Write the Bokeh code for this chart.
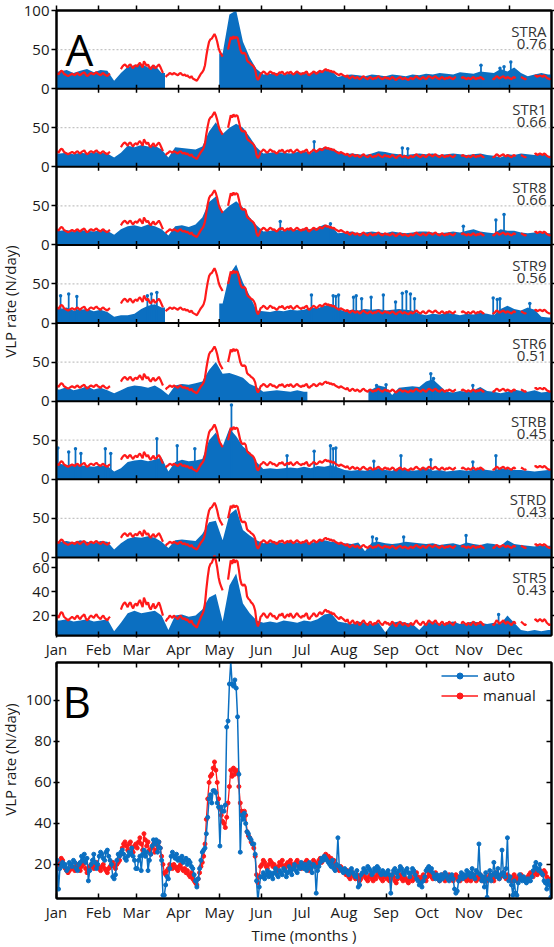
import math
import numpy as np
from bokeh.plotting import figure
from bokeh.models import Range1d, LinearAxis, FixedTicker, Span, Label, Legend, LegendItem
from bokeh.layouts import column, row
from bokeh.embed import file_html
from bokeh.resources import INLINE

nan = float("nan")
FONT = "Open Sans"
BLUE = "#0b6fc1"
RED = "#ff1a1a"

# ---------------- data ----------------
month_starts = [0, 31, 59, 90, 120, 151, 181, 212, 243, 273, 304, 334]
month_labels = ["Jan", "Feb", "Mar", "Apr", "May", "Jun", "Jul", "Aug", "Sep", "Oct", "Nov", "Dec"]

# daily manual VLP rate (N/day), Jan 1 .. Dec 31
manual = [
    20, 18, 21, 23, 22, 19, 18, 17, 16, 17, 18, 19, 18, 17, 19, 20, 18, 17, 19, 20, 21, 18, 16, 17, 19, 20, 19, 18, 20, 21, 19,
    18, 17, 19, 20, 18, 17, 16, 18, 19, 20, 21, 19, 18, 20, 21, 22, 25, 28, 30, 31, 29, 27, 30, 31, 28, 26, 29, 30,
    28, 31, 33, 30, 27, 35, 32, 29, 31, 27, 25, 28, 30, 26, 27, 29, 31, 28, 24, 20, 16, 15, 17, 18, 20, 19, 18, 20, 19, 18, 17,
    19, 20, 18, 17, 18, 16, 17, 15, 14, 16, 13, 12, 11, 10, 13, 16, 19, 21, 24, 30, 42, 52, 60, 63, 64, 67, 70, 66, 60, 52,
    47, 44, 41, 40, 38, 43, 50, 58, 66, 63, 67, 64, 66, 65, 58, 50, 46, 45, 46, 44, 36, 34, 33, 31, 30, 28, 24, 15, 11, 14, 19,
    20, 22, 21, 19, 18, 20, 22, 21, 19, 20, 18, 17, 19, 21, 20, 22, 19, 18, 20, 21, 19, 22, 20, 18, 19, 21, 22, 20, 19, 18,
    20, 19, 21, 22, 18, 17, 19, 20, 22, 21, 19, 20, 22, 23, 21, 22, 24, 25, 23, 24, 22, 23, 21, 22, 20, 19, 18, 17, 19, 18, 17,
    16, 15, 17, 14, 13, 15, 16, 14, 13, 15, 14, 12, 13, 15, 16, 14, 13, 12, 14, 15, 13, 12, 14, 13, 15, 16, 14, 13, 12, 14, 15,
    13, 14, 12, 13, 15, 14, 12, 11, 13, 14, 15, 13, 12, 14, 13, 12, 11, 13, 14, 12, 13, 15, 16, 14, 13, 12, 14, 15, 13, 12,
    14, 16, 15, 14, 13, 15, 16, 14, 13, 12, 14, 15, 13, 12, 14, 13, 15, 14, 13, 12, 14, 15, 13, 14, 12, 13, 15, 14, 13, 12, 14,
    13, 12, 14, 15, 13, 12, 14, 13, 15, 14, 12, 13, 14, 12, 13, 15, 14, 13, 12, 14, 16, 15, 13, 14, 15, 16, 14, 13, 15, 14,
    13, 12, 14, 15, 13, 12, 14, 13, 15, 14, 13, 12, 13, 14, 15, 16, 15, 14, 16, 17, 15, 16, 17, 16, 15, 17, 16, 14, 13, 12, 13,
]

# daily automatic VLP rate (N/day)
auto = [
    22, 8, 18, 20, 21, 19, 20, 17, 18, 21, 20, 19, 22, 21, 18, 17, 20, 21, 24, 22, 25, 21, 23, 12, 17, 20, 22, 25, 21, 18, 20,
    24, 26, 25, 23, 22, 26, 27, 24, 22, 20, 14, 13, 15, 22, 25, 24, 26, 27, 25, 23, 22, 24, 26, 25, 28, 24, 22, 18,
    18, 22, 24, 17, 25, 27, 24, 26, 17, 22, 25, 29, 32, 30, 32, 26, 31, 28, 22, 5, 5, 10, 14, 13, 18, 24, 26, 24, 23, 25, 22,
    23, 22, 24, 21, 22, 23, 20, 22, 21, 19, 18, 15, 12, 9, 13, 18, 22, 26, 27, 28, 35, 43, 52, 54, 50, 56, 56, 55, 50, 48,
    29, 48, 46, 46, 49, 87, 90, 108, 119, 108, 107, 110, 106, 92, 64, 26, 44, 42, 45, 40, 36, 35, 33, 32, 30, 30, 25, 12, 2, 9, 14,
    14, 16, 13, 15, 17, 14, 16, 15, 13, 16, 18, 15, 14, 17, 16, 15, 18, 17, 14, 16, 19, 17, 15, 18, 20, 17, 16, 19, 18, 21,
    19, 18, 20, 17, 19, 21, 18, 16, 20, 19, 6, 17, 19, 21, 23, 22, 24, 23, 22, 21, 20, 19, 22, 18, 17, 20, 33, 19, 18, 17, 16,
    18, 17, 16, 15, 17, 18, 16, 15, 14, 17, 9, 10, 15, 16, 18, 17, 16, 19, 18, 17, 15, 16, 18, 17, 19, 18, 16, 15, 17, 16, 15,
    16, 17, 15, 6, 15, 17, 18, 16, 14, 17, 19, 18, 16, 15, 17, 18, 16, 14, 16, 18, 17, 15, 13, 12, 10, 11, 9, 12, 14, 17,
    18, 19, 17, 18, 16, 14, 13, 15, 14, 12, 15, 13, 14, 16, 15, 13, 12, 14, 15, 13, 8, 6, 7, 12, 14, 16, 13, 15, 14, 17, 15,
    16, 14, 18, 15, 13, 17, 16, 30, 15, 12, 14, 9, 16, 4, 13, 17, 12, 15, 21, 16, 14, 18, 13, 15, 27, 16, 14, 18, 33, 12,
    14, 10, 5, 12, 6, 5, 11, 15, 13, 12, 14, 12, 11, 13, 12, 12, 14, 17, 19, 21, 18, 17, 20, 16, 15, 12, 11, 8, 12, 10, 4,
]

# days (inclusive ranges) where the manual curve in panel A is interrupted
manual_gaps_a = [(40, 46), (79, 79), (123, 125), (295, 297), (316, 320), (339, 341), (347, 351)]

# per-station automatic rates: dense upper envelope in 5-day bins, plus isolated high values
stations = ["STRA", "STR1", "STR8", "STR9", "STR6", "STRB", "STRD", "STR5"]
correlations = [0.76, 0.66, 0.66, 0.56, 0.51, 0.45, 0.43, 0.43]

stra_fill = [22, 24, 20, 23, 25, 21, 24, 23, 10, 20, 28, 30, 32, 27, 30, 20,
             nan, nan, nan, nan, nan, nan, nan, nan, 45, 95, 100, 60, 40, 25,
             18, 19, 20, 18, 19, 21, 20, 19, 22, 24, 23, 15,
             17, 18, 17, 16, 18, 17, 16, 18, 17, 16, 18, 17,
             19, 18, 20, 19, 18, 21, 20, 19, 22, 21, 20, 25, 22, 27, 20, 16, 18, 20, 18]
str1_fill = [17, 18, 16, 18, 17, 19, 18, 17, 12, 18, 27, 25, 28, 26, 27, 22, 12,
             25, 24, 23, 22, 26, 45, 57, 42, 50, 55, 50, 38, 25,
             17, 18, 19, 18, 17, 19, 20, 18, 22, 25, 24, 20,
             16, 17, 16, 15, 17, 20, 19, 17, 16, 15, 16, 17,
             16, 17, 15, 16, 17, 16, 15, 16, 17, 15, 14, 12, 16, 15, 17, 16, 15, 16, 14]
str8_fill = [18, 19, 17, 19, 18, 17, 19, 18, 13, 20, 24, 25, 23, 26, 24, 20, 12,
             24, 25, 23, 26, 35, 55, 62, 42, 50, 56, 48, 35, 25,
             17, 18, 19, 18, 20, 19, 21, 20, 22, 26, 24, 15,
             16, 17, 15, 16, 17, 16, 15, 17, 16, 15, 16, 17,
             17, 16, 15, 16, 17, 16, 18, 20, 17, 16, 15, 20, 18, 18, 16, 15, 16, 17, 15]
str9_fill = [18, 20, 16, 17, 18, 15, 17, 14, 8, 10, 10, 12, 18, 22, 24, 20,
             nan, nan, nan, nan, nan, nan, nan, nan, 25, 62, 75, 52, 35, 16,
             15, 14, 16, 15, 17, 16, 17, 20, 19, 22, 24, 18,
             15, 17, 16, 18, 17, 18, 16, 17, 18, 17, 16, 12,
             10, 12, 11, 13, 12, 10, 12, 11, 13, 12, 10, 18, 22, 18, 16, 20, 17, 8, 7]
str6_fill = [15, 18, 14, 16, 19, 15, 17, 14, 10, 14, 18, 20, 19, 17, 20, 15, 8,
             20, 22, 21, 23, 25, 40, 50, 35, 36, 33, 30, 22, 18,
             12, 13, 14, 13, 12, 14, 12, nan, nan, nan, nan, nan,
             nan, nan, nan, nan, 15, 20, 18, 8, 17, 18, 19, 18,
             25, 28, 20, 12, 11, 13, 12, 14, 18, 13, 12, 10, 12, 15, 13, 12, 14, 11, 12]
strb_fill = [20, 18, 19, 18, 17, 16, 18, 17, 10, 14, 22, 24, 25, 23, 25, 28, 10,
             22, 25, 23, 24, 26, 50, 60, 42, 65, 55, 42, 35, 22,
             13, 14, 13, 14, 15, 14, 16, 14, 17, 16, 18, 15,
             12, 11, 12, 11, 13, 14, 12, 11, 15, 13, 11, 12,
             15, 11, 12, 10, 11, 12, 11, 12, 13, 12, 11, 14, 13, 12, 12, 11, 10, 11, 12]
strd_fill = [20, 21, 19, 22, 20, 18, 21, 20, 10, 18, 24, 26, 25, 27, 25, 20, 12,
             22, 23, 22, 21, 30, 45, 47, 22, 55, 62, 35, 28, 22,
             18, 19, 20, 18, 21, 19, 20, 18, 21, 22, 20, 19,
             18, 17, 19, 8, 19, 20, 18, 17, 18, 20, 19, 18,
             17, 18, 16, 17, 18, 16, 19, 17, 16, 18, 17, 15, 22, 17, 16, 15, 14, 16, 15]
str5_fill = [16, 17, 15, 16, 17, 15, 16, 17, 7, 14, 22, 24, 22, 23, 24, 20, 8,
             20, 21, 19, 20, 25, 35, 38, 15, 45, 55, 30, 22, 16,
             14, 15, 14, 16, 15, 14, 16, 15, 17, 21, 22, 15,
             14, 13, 15, 14, 13, 14, 6, 14, 15, 14, 13, 8,
             14, 15, 13, 14, 15, 13, 14, 15, 14, 13, 14, 13, 20, 14, 8, 7, 8, 7, 8]

stra_spike_day = [313, 327, 330, 335]
stra_spike_val = [30, 26, 28, 34]
str1_spike_day = [190, 255, 259]
str1_spike_val = [32, 24, 23]
str8_spike_day = [165, 202, 300, 324, 330]
str8_spike_val = [30, 27, 24, 32, 39]
str9_spike_day = [3, 9, 15, 67, 70, 74, 188, 204, 206, 208, 219, 221, 225, 232, 241, 250, 255, 258, 261, 264, 322, 325, 327, 349]
str9_spike_val = [35, 37, 34, 35, 37, 39, 36, 35, 34, 36, 33, 35, 31, 33, 36, 27, 38, 40, 37, 31, 32, 30, 31, 25]
str6_spike_day = [236, 243, 276, 278, 307]
str6_spike_val = [20, 21, 35, 29, 20]
strb_spike_day = [1, 9, 14, 18, 36, 40, 74, 89, 102, 129, 170, 190, 202, 204, 206, 234, 254, 276, 307, 324]
strb_spike_val = [40, 35, 39, 33, 39, 33, 52, 43, 39, 95, 30, 36, 43, 39, 40, 23, 30, 25, 22, 30]
strd_spike_day = [233, 236, 256, 302]
strd_spike_val = [26, 24, 26, 28]
str5_spike_day = [326]
str5_spike_val = [21]

panel_limits = [(0, 100)] * 7 + [(3.4, 68.5)]
panel_yticks = [[0, 50, 100]] + [[0, 50]] * 6 + [[20, 40, 60]]
b_yticks = [20, 40, 60, 80, 100]

fills = [stra_fill, str1_fill, str8_fill, str9_fill, str6_fill, strb_fill, strd_fill, str5_fill]
spikes = [(stra_spike_day, stra_spike_val), (str1_spike_day, str1_spike_val), (str8_spike_day, str8_spike_val),
          (str9_spike_day, str9_spike_val), (str6_spike_day, str6_spike_val), (strb_spike_day, strb_spike_val),
          (strd_spike_day, strd_spike_val), (str5_spike_day, str5_spike_val)]

BIN = 5
day_x = [d + 0.5 for d in range(365)]
bin_x = [BIN * i + BIN / 2 for i in range(len(stra_fill))]

manual_a = list(manual)
for a, b in manual_gaps_a:
    for d in range(a, b + 1):
        manual_a[d] = nan


def runs(xs, ys):
    out, cx, cy = [], [], []
    for x, y in zip(xs, ys):
        if y is None or math.isnan(y):
            if cx:
                out.append((cx, cy))
            cx, cy = [], []
        else:
            cx.append(x)
            cy.append(y)
    if cx:
        out.append((cx, cy))
    return out


def style_axis(ax, tin, tout, labels=True, size="15px", standoff=3):
    ax.axis_line_width = 2
    ax.axis_line_color = "black"
    ax.major_tick_in = tin
    ax.major_tick_out = tout
    ax.major_tick_line_width = 1.5
    ax.major_tick_line_color = "black"
    ax.minor_tick_line_color = None
    ax.major_label_text_font = FONT
    if labels:
        ax.major_label_text_color = "#1a1a1a"
        ax.major_label_text_font_size = size
        ax.major_label_standoff = standoff
    else:
        ax.major_label_text_color = None
        ax.major_label_text_font_size = "0px"
        ax.major_label_standoff = 0


FW = 495
FH_A = 625
NP = 8
LEFT = 33
STRIP = 20
TOP_A, BOT_A, TOP_B, BOT_B = 10, 26, 1, 49

# ---------------- panel A ----------------
pA = figure(frame_width=FW, frame_height=FH_A, x_range=Range1d(0, 365), y_range=Range1d(0, NP),
            min_border_left=LEFT, min_border_right=6, min_border_top=TOP_A, min_border_bottom=BOT_A,
            x_axis_location=None, y_axis_location=None,
            output_backend="svg", toolbar_location=None)
pA.grid.visible = False
pA.outline_line_color = "black"
pA.outline_line_width = 2
pA.outline_line_alpha = 1
pA.background_fill_color = "white"
pA.border_fill_color = "white"

extra = {}
for k, (lo, hi) in enumerate(panel_limits):
    h = hi - lo
    extra[f"p{k}"] = Range1d(lo - (NP - 1 - k) * h, hi + k * h)
pA.extra_y_ranges = extra

for k in range(NP):
    rn = f"p{k}"
    if k < NP - 1:
        pA.add_layout(Span(location=50, dimension="width", y_range_name=rn, line_color="#c4c4c4",
                           line_width=1.3, line_dash="2 2", level="underlay"))
    for xs, ys in runs(bin_x, fills[k]):
        xs2 = [xs[0] - BIN / 2] + xs + [xs[-1] + BIN / 2]
        ys2 = [ys[0]] + ys + [ys[-1]]
        pA.varea(x=xs2, y1=[0] * len(xs2), y2=ys2, fill_color=BLUE, fill_alpha=1, y_range_name=rn)
    sd, sv = spikes[k]
    pA.vbar(x=sd, top=sv, bottom=0, width=1.3, fill_color=BLUE, line_color=None, y_range_name=rn)
    pA.scatter(x=sd, y=sv, size=3.5, fill_color=BLUE, line_color=None, y_range_name=rn)
    pA.line(x=day_x, y=manual_a, line_color=RED, line_width=2.2, y_range_name=rn)

for b in range(1, NP):
    pA.add_layout(Span(location=b, dimension="width", line_color="black", line_width=2))

tx, ty = [], []
for b in range(1, NP):
    for m in month_starts[1:]:
        tx.append(m)
        ty.append(b)
pA.scatter(x=tx, y=ty, marker="dash", angle=math.pi / 2, size=8, line_color="black", line_width=1.5)

left_ticks, left_over = [], {}
for k, (lo, hi) in enumerate(panel_limits):
    for v in panel_yticks[k]:
        pos = (NP - 1 - k) + (v - lo) / (hi - lo)
        left_ticks.append(pos)
        left_over[pos] = str(v)

axl = LinearAxis(ticker=FixedTicker(ticks=left_ticks), major_label_overrides=left_over)
style_axis(axl, 0, 5, True, "15px", 2)
pA.add_layout(axl, "left")
axr = LinearAxis(ticker=FixedTicker(ticks=left_ticks))
style_axis(axr, 0, 5, False)
pA.add_layout(axr, "right")
axt = LinearAxis(ticker=FixedTicker(ticks=month_starts))
style_axis(axt, 0, 5, False)
pA.add_layout(axt, "above")
axb = LinearAxis(ticker=FixedTicker(ticks=month_starts),
                 major_label_overrides={m: l for m, l in zip(month_starts, month_labels)})
style_axis(axb, 4, 2, True, "15px", 1)
pA.add_layout(axb, "below")

for k in range(NP):
    top = (NP - k) * FH_A / NP
    pA.add_layout(Label(x=FW - 5, y=top - 20, x_units="screen", y_units="screen", text=stations[k],
                        text_align="right", text_baseline="alphabetic", text_font=FONT,
                        text_font_size="15px", text_color="#333333"))
    pA.add_layout(Label(x=FW - 5, y=top - 33, x_units="screen", y_units="screen",
                        text=f"{correlations[k]:.2f}", text_align="right", text_baseline="alphabetic",
                        text_font=FONT, text_font_size="15px", text_color="#333333"))

pA.add_layout(Label(x=9, y=FH_A - 38, x_units="screen", y_units="screen", text="A",
                    text_font=FONT, text_font_size="44px", text_baseline="alphabetic", text_color="black"))

# ---------------- panel B ----------------
FH_B = 236
pB = figure(frame_width=FW, frame_height=FH_B, x_range=Range1d(0, 365), y_range=Range1d(3.4, 118.5),
            min_border_left=LEFT, min_border_right=6, min_border_top=TOP_B, min_border_bottom=BOT_B,
            x_axis_location=None, y_axis_location=None,
            output_backend="svg", toolbar_location=None)
pB.grid.visible = False
pB.outline_line_color = "black"
pB.outline_line_width = 2
pB.background_fill_color = "white"
pB.border_fill_color = "white"

rl = pB.line(x=day_x, y=manual, line_color=RED, line_width=1.3)
rs = pB.scatter(x=day_x, y=manual, size=4, fill_color=RED, line_color=RED)
bl = pB.line(x=day_x, y=auto, line_color=BLUE, line_width=1.5)
bs = pB.scatter(x=day_x, y=auto, size=4, fill_color=BLUE, line_color=BLUE)

bxl = LinearAxis(ticker=FixedTicker(ticks=b_yticks))
style_axis(bxl, 3, 3, True, "15px", 2)
pB.add_layout(bxl, "left")
bxr = LinearAxis(ticker=FixedTicker(ticks=b_yticks))
style_axis(bxr, 5, 0, False)
pB.add_layout(bxr, "right")
bxt = LinearAxis(ticker=FixedTicker(ticks=month_starts))
style_axis(bxt, 5, 0, False)
pB.add_layout(bxt, "above")
bxb = LinearAxis(ticker=FixedTicker(ticks=month_starts),
                 major_label_overrides={m: l for m, l in zip(month_starts, month_labels)},
                 axis_label="Time (months )")
style_axis(bxb, 5, 0, True, "15px", 3)
bxb.axis_label_text_font = FONT
bxb.axis_label_text_font_size = "15px"
bxb.axis_label_text_font_style = "normal"
bxb.axis_label_text_color = "#1a1a1a"
bxb.axis_label_standoff = 0
pB.add_layout(bxb, "below")

legend = Legend(items=[LegendItem(label="auto", renderers=[bl, bs]),
                       LegendItem(label="manual", renderers=[rl, rs])],
                location=(385, 193), orientation="vertical")
legend.glyph_width = 37
legend.glyph_height = 15
legend.label_height = 15
legend.spacing = 0
legend.padding = 0
legend.margin = 0
legend.label_standoff = 5
legend.label_text_font = FONT
legend.label_text_font_size = "15px"
legend.label_text_color = "#1a1a1a"
legend.border_line_alpha = 0
legend.background_fill_alpha = 0
pB.add_layout(legend)

pB.add_layout(Label(x=6, y=FH_B - 38, x_units="screen", y_units="screen", text="B",
                    text_font=FONT, text_font_size="44px", text_baseline="alphabetic", text_color="black"))

# ---------------- left strip with the y-axis titles ----------------
H_TOTAL = TOP_A + FH_A + BOT_A + TOP_B + FH_B + BOT_B
strip = figure(frame_width=STRIP, frame_height=H_TOTAL, x_range=Range1d(0, STRIP), y_range=Range1d(0, H_TOTAL),
               min_border=0, x_axis_location=None, y_axis_location=None,
               output_backend="svg", toolbar_location=None)
strip.grid.visible = False
strip.outline_line_color = None
strip.background_fill_color = "white"
strip.border_fill_color = "white"
y_title_centers = [301, 759]  # distance from top of page
for yc in y_title_centers:
    strip.add_layout(Label(x=9, y=H_TOTAL - yc, text="VLP rate (N/day)", angle=math.pi / 2,
                           text_align="center", text_baseline="middle",
                           text_font=FONT, text_font_size="15px", text_color="#1a1a1a"))

layout = row(strip, column(pA, pB, spacing=0), spacing=0)
open("out.html", "w").write(file_html(layout, INLINE))
